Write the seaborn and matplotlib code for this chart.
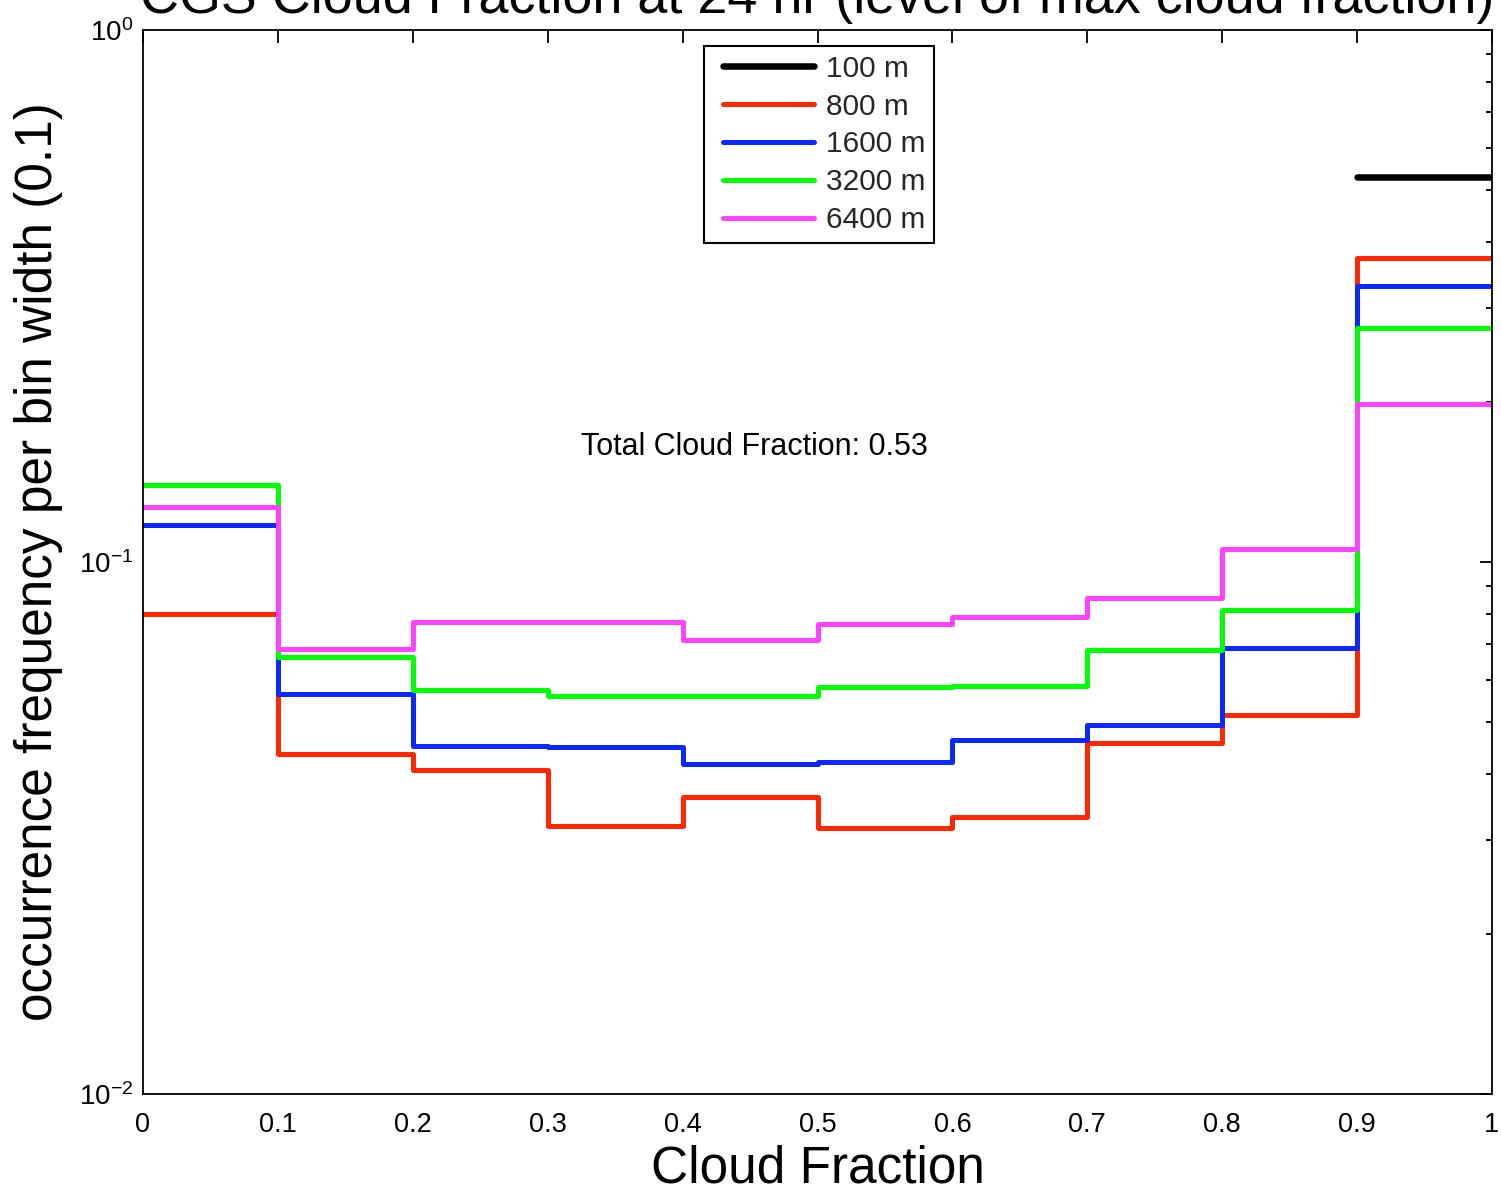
import numpy as np
import pandas as pd
import matplotlib
matplotlib.use("Agg")
import matplotlib.pyplot as plt
import seaborn as sns
from matplotlib.legend_handler import HandlerLine2D
from matplotlib.ticker import LogLocator, NullFormatter, FixedLocator

# Histogram bin edges (cloud fraction)
bin_edges = [0.0, 0.1, 0.2, 0.3, 0.4, 0.5, 0.6, 0.7, 0.8, 0.9, 1.0]
tick_labels = ["0", "0.1", "0.2", "0.3", "0.4", "0.5", "0.6", "0.7", "0.8", "0.9", "1"]

# Occurrence frequency per bin width for each grid spacing
series_labels = ["100 m", "800 m", "1600 m", "3200 m", "6400 m"]
freq_100m = [0, 0, 0, 0, 0, 0, 0, 0, 0, 0.53]
freq_800m = [0.0797, 0.0436, 0.0406, 0.0319, 0.0362, 0.0316, 0.0332, 0.0457, 0.0515, 0.372]
freq_1600m = [0.1174, 0.0564, 0.0451, 0.0449, 0.0418, 0.0420, 0.0462, 0.0493, 0.0689, 0.3306]
freq_3200m = [0.1394, 0.0663, 0.0574, 0.0559, 0.0561, 0.0581, 0.0584, 0.0682, 0.0813, 0.2753]
freq_6400m = [0.1271, 0.0686, 0.0771, 0.0772, 0.0714, 0.0765, 0.0789, 0.0855, 0.1057, 0.1984]
total_cloud_fraction = 0.53

series_values = [freq_100m, freq_800m, freq_1600m, freq_3200m, freq_6400m]
series_colors = ["#000000", "#ff2600", "#0a28ff", "#00ff00", "#ff42ff"]
series_widths = [4.7, 3.6, 3.6, 3.6, 3.6]

sns.set_theme(style="white")
plt.rcParams["font.family"] = ["Liberation Sans", "DejaVu Sans"]
plt.rcParams["mathtext.fontset"] = "custom"
plt.rcParams["mathtext.rm"] = "Liberation Sans"
plt.rcParams["mathtext.it"] = "Liberation Sans:italic"
plt.rcParams["mathtext.bf"] = "Liberation Sans:bold"

fig = plt.figure(figsize=(15.01, 11.9), dpi=100)
ax = fig.add_axes([143 / 1501, 1 - 1094 / 1190, 1349 / 1501, 1064 / 1190])

for label, vals, color, lw in zip(series_labels, series_values, series_colors, series_widths):
    # stairs: repeat the last bin value at the right edge
    df = pd.DataFrame({"cf": bin_edges, "freq": list(vals) + [vals[-1]]})
    sns.lineplot(data=df, x="cf", y="freq", ax=ax, color=color, linewidth=lw,
                 drawstyle="steps-post", estimator=None, sort=True, label=label,
                 legend=False)

ax.set_yscale("log", nonpositive="mask")
ax.set_xlim(0, 1)
ax.set_ylim(1e-2, 1)

ax.xaxis.set_major_locator(FixedLocator(bin_edges))
ax.set_xticklabels(tick_labels)
ax.yaxis.set_major_locator(LogLocator(base=10, numticks=10))
ax.yaxis.set_minor_locator(LogLocator(base=10, subs=np.arange(2, 10), numticks=20))
ax.yaxis.set_minor_formatter(NullFormatter())

for side in ax.spines.values():
    side.set_linewidth(1.3)
    side.set_color("black")
ax.tick_params(axis="both", which="both", direction="in", top=True, right=True,
               colors="black", width=1.3)
ax.tick_params(axis="x", which="major", length=9, pad=13, labelsize=19.5)
ax.tick_params(axis="y", which="major", length=9, pad=7, labelsize=20)
ax.tick_params(axis="y", which="minor", length=4.5)
ax.grid(False)

ax.set_xlabel("Cloud Fraction", fontsize=37, color="black")
ax.set_ylabel("occurrence frequency per bin width (0.1)", fontsize=37, color="black")
ax.xaxis.set_label_coords(0.5, -0.0475)
ax.yaxis.set_label_coords(-0.059, 0.5)

ax.set_title("CGS Cloud Fraction at 24 hr (level of max cloud fraction)",
             fontsize=38.8, color="black", pad=12)

ax.text(0.325, 0.1648, f"Total Cloud Fraction: {total_cloud_fraction:.2f}",
        fontsize=22, color="black", ha="left", va="center")

handles = ax.get_lines()[:len(series_labels)]
leg = ax.legend(handles, series_labels, loc="upper left",
                bbox_to_anchor=((704 - 143) / 1349, (1094 - 45.7) / 1064),
                borderaxespad=0, fontsize=21.5, frameon=True, fancybox=False,
                framealpha=1, edgecolor="black", borderpad=0.3,
                labelspacing=0.33, handlelength=3.4, handletextpad=0.38,
                handler_map={matplotlib.lines.Line2D: HandlerLine2D(xpad=0.33)})
leg.get_frame().set_linewidth(1.5)

fig.savefig("out.png", dpi=100)
